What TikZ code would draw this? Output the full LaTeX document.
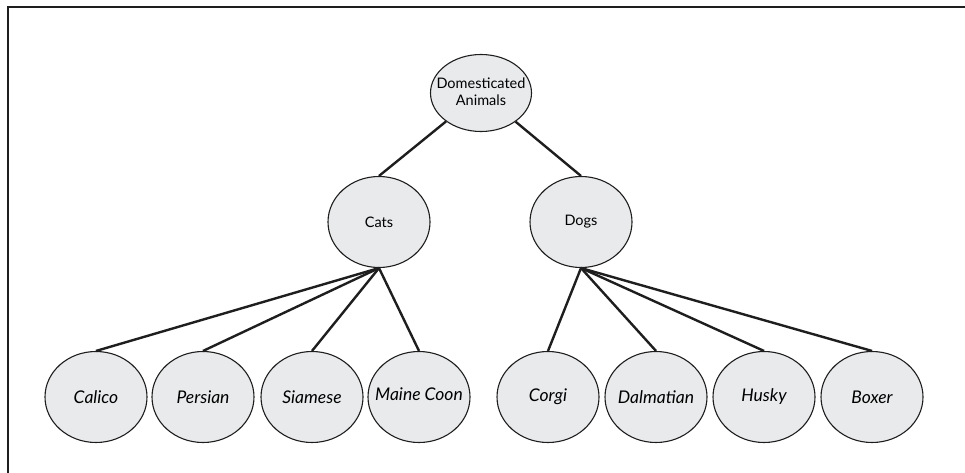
\documentclass[tikz,border=0pt]{standalone}
\usepackage{fontspec}
\setmainfont{Lato}
\usetikzlibrary{shapes.geometric}
\definecolor{nodefill}{HTML}{E8EAEB}
\definecolor{edgecol}{HTML}{1E1E1E}
\begin{document}
\begin{tikzpicture}[x=1pt,y=-1pt,
  animal/.style={ellipse,draw=edgecol,line width=1.1pt,fill=nodefill,inner sep=0pt,
    minimum width=102pt,minimum height=91pt,align=center,text=black,font=\fontsize{14.5}{16}\selectfont},
  leaf/.style={animal,font=\fontsize{17.5}{19}\selectfont\itshape},
  rootnode/.style={animal,minimum width=101pt,minimum height=77pt,font=\fontsize{14.5}{18}\selectfont},
  link/.style={draw=edgecol,line width=2.4pt}]
\useasboundingbox (0,0) rectangle (965,473);
\draw[line width=2pt,draw=edgecol] (965,7) -- (8,7) -- (8,473);
\node[rootnode] (da) at (481,93) {\makebox[0pt]{\begin{tabular}{@{}c@{}}Domesticated\\[-1pt]Animals\end{tabular}}};
\node[animal] (cats) at (379,222) {Cats};
\node[animal] (dogs) at (581,222) {Dogs};
\node[leaf] (calico) at (96,397) {Calico};
\node[leaf] (persian) at (203,397) {Persian};
\node[leaf] (siamese) at (312,397) {Siamese};
\node[leaf] (maine) at (419,397) {\makebox[0pt]{\raisebox{5pt}{Maine Coon}}};
\node[leaf] (corgi) at (548,397) {Corgi};
\node[leaf] (dalmatian) at (656,397) {\makebox[0pt]{Dalmatian}};
\node[leaf] (husky) at (764,397) {Husky};
\node[leaf] (boxer) at (872,397) {Boxer};
\draw[link] (da) -- (cats.north);
\draw[link] (da) -- (dogs.north);
\foreach \c in {calico,persian,siamese,maine}
  \draw[link] (cats.south) -- (\c.north);
\foreach \c in {corgi,dalmatian,husky,boxer}
  \draw[link] (dogs.south) -- (\c.north);
\end{tikzpicture}
\end{document}
